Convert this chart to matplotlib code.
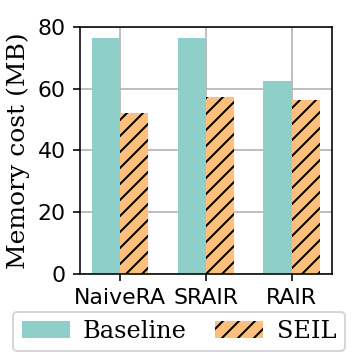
import matplotlib
matplotlib.use("Agg")
import matplotlib.pyplot as plt
import numpy as np

categories = ["NaiveRA", "SRAIR", "RAIR"]
baseline = [76.4, 76.4, 62.5]
seil = [52.1, 57.4, 56.3]

plt.rcParams['hatch.linewidth'] = 1.0
fig = plt.figure(figsize=(2.5, 2.5), dpi=144)
ax = fig.add_axes([0.222, 0.239, 0.7, 0.686])
x = np.arange(len(categories))
w = 0.33
ax.bar(x - w/2, baseline, w, color="#8ecfc9", label="Baseline", zorder=2)
ax.bar(x + w/2, seil, w, color="#ffbe7a", hatch="///", edgecolor="black", linewidth=0, label="SEIL", zorder=2)
ax.set_xlim(-0.47, 2.47)
ax.set_ylim(0, 80)
ax.set_yticks([0, 20, 40, 60, 80])
ax.set_xticks(x)
ax.set_xticklabels(categories)
ax.tick_params(labelsize=11)
ax.grid(True, color="#b0b0b0", linewidth=0.8, zorder=0)
ax.set_axisbelow(True)
ax.set_ylabel("Memory cost (MB)", family="DejaVu Serif", fontsize=12.5, labelpad=4)
leg = fig.legend(*ax.get_legend_handles_labels(), loc="upper center",
                 bbox_to_anchor=(0.497, 0.168), bbox_transform=fig.transFigure, ncol=2,
                 prop={"family": "DejaVu Serif", "size": 12}, handlelength=2.0,
                 handletextpad=0.55, columnspacing=1.2, borderpad=0.35)
fig.savefig("out.png", dpi=144)
